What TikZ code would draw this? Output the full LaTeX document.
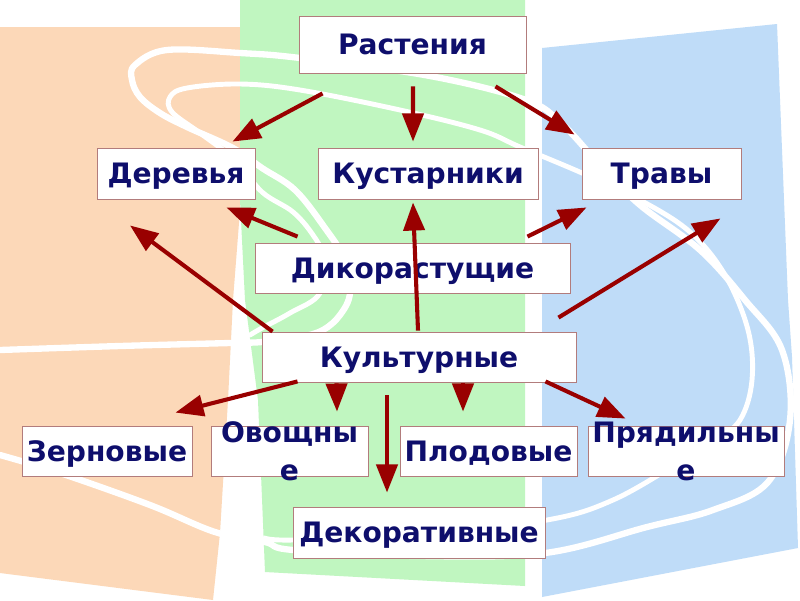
\documentclass[tikz,border=0pt]{standalone}
\usepackage{fontspec}
\setmainfont{DejaVu Sans}
\usepackage{tikz}
\usetikzlibrary{arrows.meta}
\definecolor{bgPeach}{HTML}{FCD8B8}
\definecolor{bgGreen}{HTML}{C0F6C0}
\definecolor{bgBlue}{HTML}{BFDCF8}
\definecolor{boxEdge}{HTML}{B27C7C}
\definecolor{boxText}{HTML}{0E0E6C}
\definecolor{arrRed}{HTML}{990000}

\begin{document}
\begin{tikzpicture}[
    x=0.025cm, y=-0.025cm,
    swoosh/.style    = {white, line width=4.5pt, line cap=round},
    swooshin/.style  = {white, line width=3.5pt, line cap=round},
    plantbox/.style  = {draw=boxEdge, line width=0.6pt, fill=white, inner sep=0pt,
                        font=\bfseries\fontsize{20}{27}\selectfont, text=boxText,
                        text height=14.6pt, text depth=0pt, minimum height=1.25cm},
    boxlbl/.style    = {font=\bfseries\fontsize{20}{27}\selectfont, text=boxText,
                        align=center, inner sep=0pt},
    arr/.style       = {draw=arrRed, line width=2.9pt, -{Triangle[length=20pt,width=15pt]}}
  ]
  \useasboundingbox (0,0) rectangle (800,600);
  \fill[white] (0,0) rectangle (800,600);

  \fill[bgPeach] (0,27) -- (240,27) -- (240,210) -- (233,300) -- (228,400) -- (220,533) -- (213,600) -- (0,573) -- cycle;
  \fill[bgGreen] (240,0) -- (525,0) -- (525,586) -- (265,572) -- (258,400) -- (245,300) -- (240,200) -- cycle;
  \fill[bgBlue] (542,48) -- (777,24) -- (788,300) -- (792,357) -- (798,548) -- (542,597) -- cycle;

  \draw[swoosh] plot[smooth, tension=0.6] coordinates {(0,350) (120,346) (230,343) (262,342) (300,337) (323,330) (340,315) (350,293) (345,260) (325,228) (295,190) (262,168) (233,148) (187,127) (160,113) (140,97) (132,80) (135,65) (167,50) (240,53) (300,58) (430,76) (526,100) (562,124) (600,165) (640,205) (700,250) (745,300) (782,350) (790,420) (768,482) (713,510) (647,527) (545,553) (420,556) (293,550) (265,542) (215,532) (150,505) (60,473) (0,455)};
  \draw[swooshin] plot[smooth, tension=0.6] coordinates {(250,335) (262,328) (290,313) (320,293) (322,255) (313,235) (293,212) (262,192) (235,160) (200,133) (172,112) (170,97) (187,88) (240,84) (300,90) (400,110) (480,130) (520,147) (582,173) (640,200) (690,232) (725,275) (748,330) (752,380) (740,420) (713,442) (680,462) (613,500) (547,520) (420,535) (293,540) (265,538)};

  \node[plantbox, minimum width=5.675cm, minimum height=1.425cm] (rast) at (412.5,44.5) {Растения};
  \node[plantbox, minimum width=3.95cm, minimum height=1.275cm] (derev) at (176,173.5) {Деревья};
  \node[plantbox, minimum width=5.5cm, minimum height=1.275cm] (kust) at (428,173.5) {Кустарники};
  \node[plantbox, minimum width=3.975cm, minimum height=1.275cm] (trav) at (661.5,173.5) {Травы};
  \node[plantbox, minimum width=7.875cm] (dikor) at (412.5,268) {Дикорастущие};
  \node[plantbox, minimum width=7.85cm] (kult) at (419,357) {Культурные};
  \node[plantbox, minimum width=4.25cm] (zern) at (107,451) {Зерновые};
  \node[plantbox, minimum width=3.925cm] (ovosh) at (289.5,451) {};
  \node[boxlbl] (ovoshT) at (ovosh) {Овощны\\е};
  \node[plantbox, minimum width=4.425cm] (plod) at (488.5,451) {Плодовые};
  \node[plantbox, minimum width=4.9cm] (pryad) at (686,451) {};
  \node[boxlbl] (pryadT) at (pryad) {Прядильны\\е};
  \node[plantbox, minimum width=6.3cm, minimum height=1.275cm] (dekor) at (419,532.5) {Декоративные};

  \draw[arr] ([shift={(24,20)}]rast.south west) -- ([shift={(-23,-6)}]derev.north east);
  \draw[arr] ([shift={(0.5,13)}]rast.south) -- ([shift={(-15,-6)}]kust.north);
  \draw[arr] ([shift={(-31,13)}]rast.south east) -- ([shift={(-7,-13)}]trav.north west);
  \draw[arr] ([shift={(43,-6)}]dikor.north west) -- ([shift={(-29,8)}]derev.south east);
  \draw[arr] ([shift={(-1,-1)}]kult.north) -- ([shift={(-15,3)}]kust.south);
  \draw[arr] ([shift={(-43,-6)}]dikor.north east) -- ([shift={(5,8)}]trav.south west);
  \draw[arr] ([shift={(11,0)}]kult.north west) -- ([shift={(-46,26)}]derev.south);
  \draw[arr] ([shift={(-18,-14)}]kult.north east) -- ([shift={(-21,19)}]trav.south east);
  \draw[arr] ([shift={(36,-1)}]kult.south west) -- ([shift={(-17,-13)}]zern.north east);
  \draw[arr] ([shift={(75,1)}]kult.south west) -- ([shift={(47.5,-14)}]ovosh.north);
  \draw[arr] ([shift={(-32,13)}]kult.south) -- ([shift={(-32,-14)}]dekor.north);
  \draw[arr] ([shift={(44,1)}]kult.south) -- ([shift={(-25.5,-14)}]plod.north);
  \draw[arr] ([shift={(-31,-1)}]kult.south east) -- ([shift={(38,-7)}]pryad.north west);
\end{tikzpicture}
\end{document}
